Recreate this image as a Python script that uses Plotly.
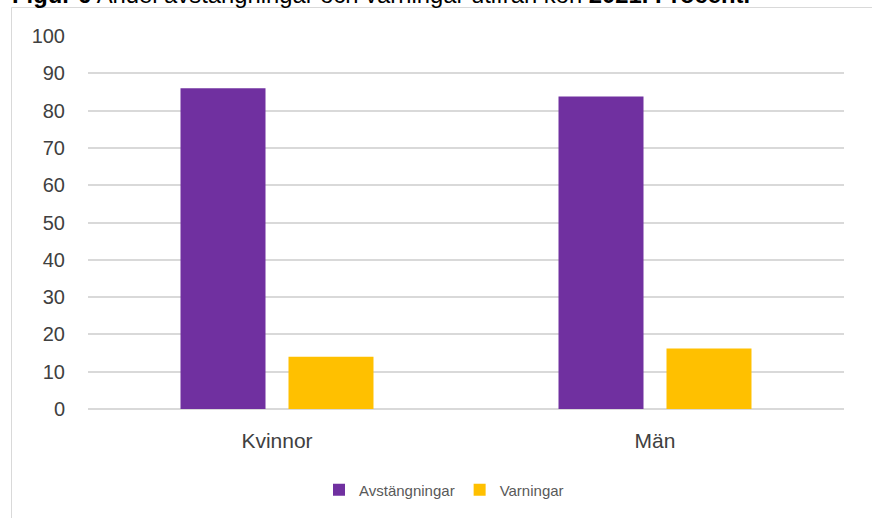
import plotly.graph_objects as go

categories = ["Kvinnor", "Män"]
avstangningar = [86, 83.8]
varningar = [14, 16.2]
series_names = ["Avstängningar", "Varningar"]
y_ticks = [0, 10, 20, 30, 40, 50, 60, 70, 80, 90, 100]
title_html = "<b>Figur 6</b> Andel avstängningar och varningar utifrån kön <b>2021. Procent.</b>"

fig = go.Figure()
fig.add_trace(go.Bar(x=categories, y=avstangningar, name=series_names[0],
                     marker=dict(color="#7030A0", line=dict(width=0))))
fig.add_trace(go.Bar(x=categories, y=varningar, name=series_names[1],
                     marker=dict(color="#FFC000", line=dict(width=0))))

L, R, T, B = 88, 28, 36, 109
W, H = 872, 518
pw, ph = W - L - R, H - T - B

def px(x):
    return (x - L) / pw

def py(y):
    return (H - B - y) / ph

fig.update_layout(
    width=W, height=H,
    margin=dict(l=L, r=R, t=T, b=B, pad=0),
    paper_bgcolor="white", plot_bgcolor="white",
    barmode="group", bargap=0.4286, bargroupgap=0.213,
    font=dict(family="Liberation Sans, Arial, sans-serif", color="#404040"),
    showlegend=True,
    legend=dict(orientation="h", x=px(444), xanchor="center", y=py(490), yanchor="middle",
                font=dict(family="Liberation Sans, Arial, sans-serif", size=15, color="#595959"),
                itemwidth=30, tracegroupgap=0, itemsizing="constant"),
    xaxis=dict(showgrid=False, showline=False, zeroline=False, ticks="",
               tickfont=dict(size=21, color="#404040"), ticklabelstandoff=17),
    yaxis=dict(range=[0, 100], tickvals=y_ticks, showgrid=True, gridcolor="#d9d9d9",
               gridwidth=1.5, zeroline=True, zerolinecolor="#d9d9d9", zerolinewidth=1.5,
               showline=False, ticks="", tickfont=dict(size=20, color="#404040"),
               ticklabelstandoff=22),
    shapes=[dict(type="rect", xref="paper", yref="paper",
                 x0=px(11.5), x1=px(900), y0=py(540), y1=py(7.5),
                 line=dict(color="#d9d9d9", width=1), fillcolor="rgba(0,0,0,0)", layer="below")],
    annotations=[dict(text=title_html, xref="paper", yref="paper", x=px(10), y=py(10),
                      xanchor="left", yanchor="bottom", showarrow=False,
                      font=dict(family="Liberation Sans, Arial, sans-serif", size=23.8, color="#000000"))],
)

fig.write_html("out.html", config={"displayModeBar": False},
               post_script="document.body.style.margin='0';")
